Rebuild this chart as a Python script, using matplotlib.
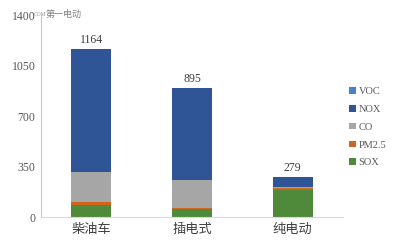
import matplotlib
matplotlib.use("Agg")
import matplotlib.pyplot as plt
import numpy as np

# data
categories = ["柴油车", "插电式", "纯电动"]
totals = [1164, 895, 279]
sox = [85, 54, 190]
pm25 = [17, 11, 12]
co = [207, 190, 7]
nox = [853, 638, 70]
voc = [2, 2, 0]
yticks = [0, 350, 700, 1050, 1400]

series = [("SOX", sox, "#4f8a3b"),
          ("PM2.5", pm25, "#d0661e"),
          ("CO", co, "#a6a6a6"),
          ("NOX", nox, "#2f5597"),
          ("VOC", voc, "#4a7fcf")]

plt.rcParams['font.family'] = ['Liberation Serif', 'Noto Sans CJK SC']

fig = plt.figure(figsize=(4.0, 2.42), dpi=100)
ax = fig.add_axes([0.1025, 0.103, 0.755, 0.835])

x = np.arange(len(categories))
bottom = np.zeros(len(categories))
handles = []
for name, vals, color in series:
    b = ax.bar(x, vals, width=0.4, bottom=bottom, color=color, label=name)
    handles.append(b)
    bottom += np.array(vals)

for xi, t in zip(x, totals):
    ax.text(xi, t + 20, str(t), ha='center', va='bottom', fontsize=8.5, color='#404040')

ax.set_xlim(-0.5, 2.5)
ax.set_ylim(0, 1400)
ax.set_yticks(yticks)
ax.set_yticklabels([str(v) for v in yticks], fontsize=8.5, color='#595959')
ax.set_xticks(x)
ax.set_xticklabels(categories, fontsize=9.5, color='#404040',
                   family=['Noto Sans CJK SC'])
ax.tick_params(length=0, pad=4)

for s in ['top', 'right']:
    ax.spines[s].set_visible(False)
ax.spines['left'].set_color('#b8cadb')
ax.spines['bottom'].set_color('#d9d9d9')

ax.legend(handles[::-1], [h.get_label() for h in handles[::-1]],
          loc='upper left', bbox_to_anchor=(0.99, 0.69), frameon=False,
          fontsize=7.5, handlelength=0.6, handleheight=0.6, handletextpad=0.3,
          labelspacing=0.85, labelcolor='#595959')

# watermark
fig.text(0.085, 0.94, "COM", fontsize=4, color='#909090', ha='left', va='center')
fig.text(0.115, 0.94, "第一电动", fontsize=6.5, color='#808080', ha='left', va='center',
         family=['Noto Sans CJK SC'])

fig.savefig("out.png", dpi=100)
